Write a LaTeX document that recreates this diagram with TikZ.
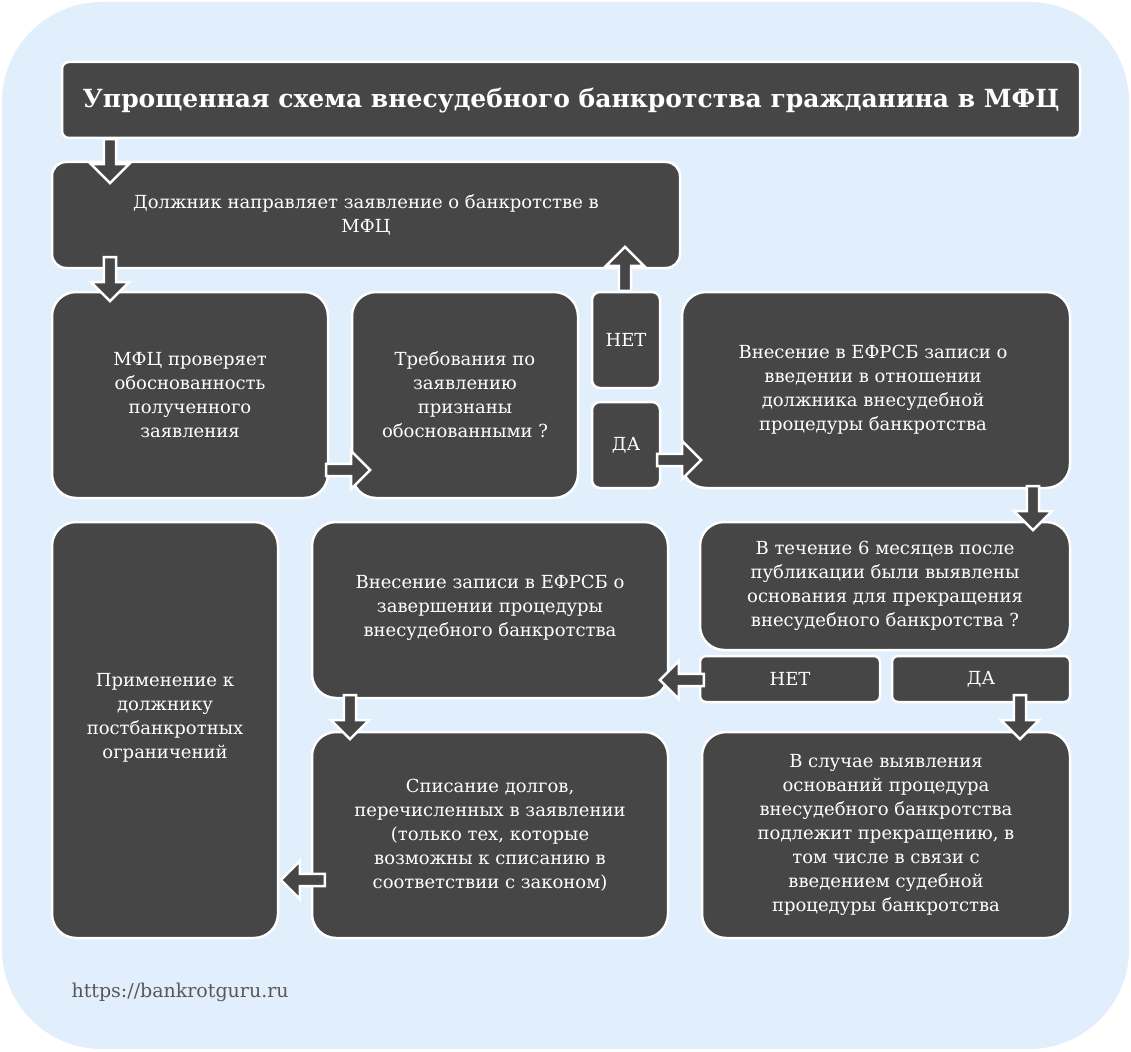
\documentclass[tikz,border=0pt]{standalone}
\usepackage{fontspec}
\setmainfont{DejaVu Serif}
\usetikzlibrary{shapes.arrows}
\definecolor{dk}{HTML}{464646}
\definecolor{bg}{HTML}{E1EEFB}
\tikzset{
 box/.style={draw=white,line width=2.5pt,fill=dk,rounded corners=#1},
 box/.default=24pt,
 txt/.style={text=white,align=center,font=\fontsize{18}{24}\selectfont},
 barrow/.style={single arrow,draw=white,fill=dk,line width=2.5pt,minimum width=38pt,minimum height=44pt,single arrow head extend=9pt,single arrow tip angle=90,inner sep=3pt}
}
\begin{document}
\begin{tikzpicture}[x=1pt,y=-1pt]
\path[fill=white] (0,0) rectangle (1131,1051);
\path[fill=bg,rounded corners=100pt] (2,2) rectangle (1129,1049);
% boxes
\draw[box=7pt] (62,62) rectangle (1080,138);
\node[txt,font=\fontsize{25}{30}\selectfont\bfseries] (title) at (571,101) {Упрощенная схема внесудебного банкротства гражданина в МФЦ};
\draw[box=14pt] (52,162) rectangle (680,268);
\node[txt] (b1) at (366,215) {Должник направляет заявление о банкротстве в\\МФЦ};
\draw[box] (52,292) rectangle (328,498);
\node[txt] (b2) at (190,395) {МФЦ проверяет\\обоснованность\\полученного\\заявления};
\draw[box] (352,292) rectangle (578,498);
\node[txt] (b3) at (465,395) {Требования по\\заявлению\\признаны\\обоснованными ?};
\draw[box=8pt] (592,292) rectangle (660,388);
\node[txt] (net1) at (626,340) {НЕТ};
\draw[box=8pt] (592,402) rectangle (660,488);
\node[txt] (da1) at (626,445) {ДА};
\draw[box] (682,292) rectangle (1070,488);
\node[txt] (b4) at (873,390) {Внесение в ЕФРСБ записи о\\введении в отношении\\должника внесудебной\\процедуры банкротства};
\draw[box] (700,522) rectangle (1070,650);
\node[txt] (b5) at (885,586) {В течение 6 месяцев после\\публикации были выявлены\\основания для прекращения\\внесудебного банкротства ?};
\draw[box=6pt] (700,656) rectangle (880,702);
\node[txt] (net2) at (790,679) {НЕТ};
\draw[box=6pt] (892,656) rectangle (1070,702);
\node[txt] (da2) at (981,679) {ДА};
\draw[box] (312,522) rectangle (668,698);
\node[txt] (b6) at (490,608) {Внесение записи в ЕФРСБ о\\завершении процедуры\\внесудебного банкротства};
\draw[box] (52,522) rectangle (278,938);
\node[txt] (b7) at (165,718) {Применение к\\должнику\\постбанкротных\\ограничений};
\draw[box] (312,732) rectangle (668,938);
\node[txt] (b8) at (490,835) {Списание долгов,\\перечисленных в заявлении\\(только тех, которые\\возможны к списанию в\\соответствии с законом)};
\draw[box] (702,732) rectangle (1070,938);
\node[txt] (b9) at (886,835) {В случае выявления\\оснований процедура\\внесудебного банкротства\\подлежит прекращению, в\\том числе в связи с\\введением судебной\\процедуры банкротства};
\node[anchor=west,text=dk!90,font=\fontsize{19}{22}\selectfont] (url) at (68,992) {https://bankrotguru.ru};
% arrows
\node[barrow,rotate=-90] (a1) at (110,158) {};
\node[barrow,rotate=-90] (a2) at (110,276) {};
\node[barrow,rotate=90] (a3) at (625,272) {};
\node[barrow] (a4) at (345,470) {};
\node[barrow] (a5) at (676,460) {};
\node[barrow,rotate=-90] (a6) at (1033,505) {};
\node[barrow,rotate=180] (a7) at (685,680) {};
\node[barrow,rotate=-90] (a8) at (1020,714) {};
\node[barrow,rotate=-90] (a9) at (350,714) {};
\node[barrow,rotate=180] (a10) at (306,880) {};
\end{tikzpicture}
\end{document}
